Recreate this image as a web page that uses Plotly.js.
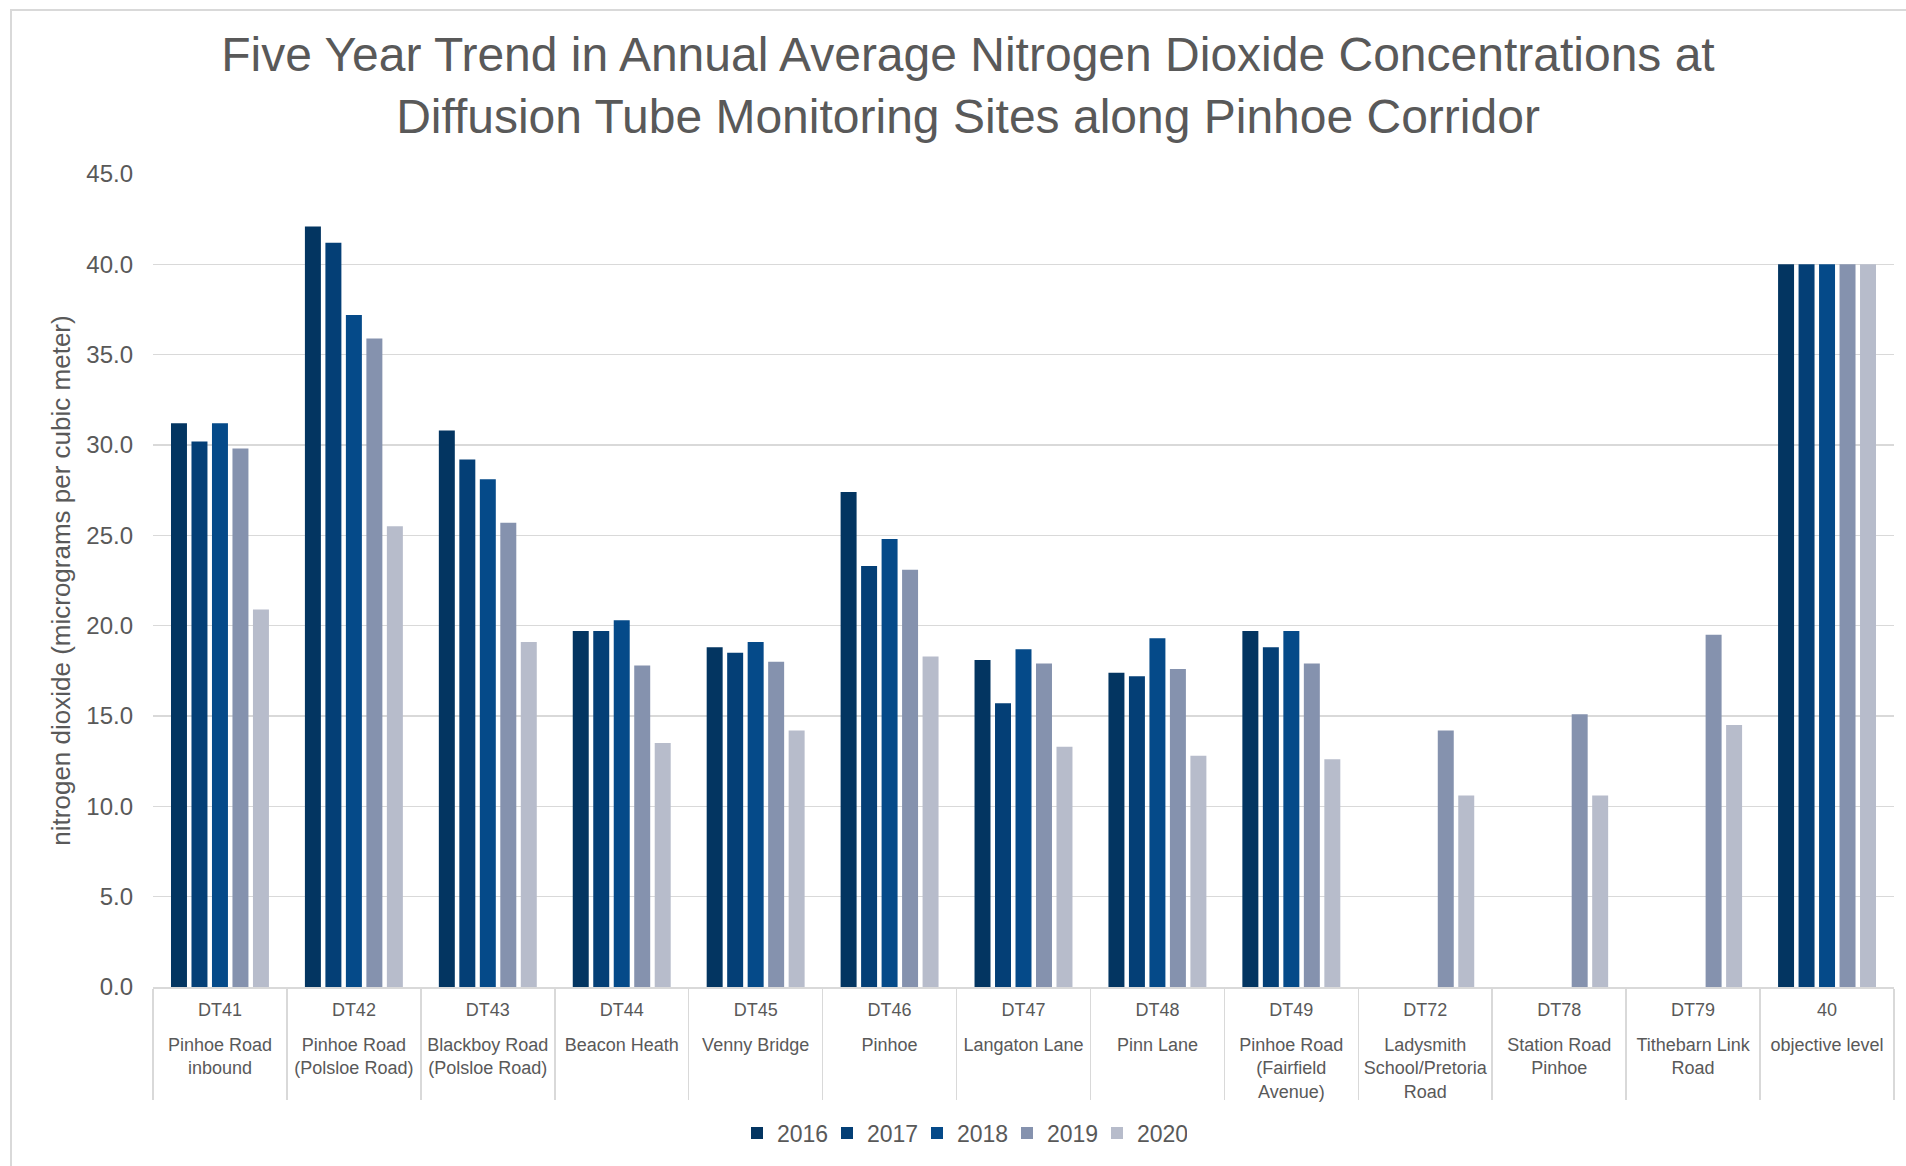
<!DOCTYPE html>
<html>
<head>
<meta charset="utf-8">
<script src="https://cdn.plot.ly/plotly-3.0.1.min.js"></script>
<style>html,body{margin:0;padding:0;background:#fff;}#chart{width:1906px;height:1166px;}</style>
</head>
<body>
<div id="chart"></div>
<script>
// ---- data ----
var siteCodes = ['DT41','DT42','DT43','DT44','DT45','DT46','DT47','DT48','DT49','DT72','DT78','DT79','40'];
var siteNames = ['Pinhoe Road<br>inbound','Pinhoe Road<br>(Polsloe Road)','Blackboy Road<br>(Polsloe Road)','Beacon Heath','Venny Bridge','Pinhoe','Langaton Lane','Pinn Lane','Pinhoe Road<br>(Fairfield<br>Avenue)','Ladysmith<br>School/Pretoria<br>Road','Station Road<br>Pinhoe','Tithebarn Link<br>Road','objective level'];
var years = ['2016','2017','2018','2019','2020'];
var y2016 = [31.2, 42.1, 30.8, 19.7, 18.8, 27.4, 18.1, 17.4, 19.7, null, null, null, 40];
var y2017 = [30.2, 41.2, 29.2, 19.7, 18.5, 23.3, 15.7, 17.2, 18.8, null, null, null, 40];
var y2018 = [31.2, 37.2, 28.1, 20.3, 19.1, 24.8, 18.7, 19.3, 19.7, null, null, null, 40];
var y2019 = [29.8, 35.9, 25.7, 17.8, 18.0, 23.1, 17.9, 17.6, 17.9, 14.2, 15.1, 19.5, 40];
var y2020 = [20.9, 25.5, 19.1, 13.5, 14.2, 18.3, 13.3, 12.8, 12.6, 10.6, 10.6, 14.5, 40];
var yTickVals = [0,5,10,15,20,25,30,35,40,45];

// ---- styles ----
var colors = ['#033561','#043f76','#054a89','#8592ae','#b7bccb'];
var series = [y2016, y2017, y2018, y2019, y2020];
var FONT = 'Liberation Sans, Arial, sans-serif';
var TXT = '#595959';
var GRID = '#d9d9d9';

var traces = series.map(function(vals, i){
  return {
    type: 'bar',
    name: years[i],
    x: siteCodes,
    y: vals,
    marker: {color: colors[i], line: {width: 0}},
    hoverinfo: 'skip'
  };
});

var W = 1906, H = 1166;
var L = 153, R = 12, T = 174, B = 179;
var pw = W - L - R, ph = H - T - B;
function px2paperX(px){ return (px - L) / pw; }
function px2paperY(py){ return (H - B - py) / ph; }

var layout = {
  width: W, height: H,
  margin: {l: L, r: R, t: T, b: B, pad: 0},
  paper_bgcolor: '#ffffff',
  plot_bgcolor: '#ffffff',
  font: {family: FONT, color: TXT},
  title: {
    text: 'Five Year Trend in Annual Average Nitrogen Dioxide Concentrations at<br>Diffusion Tube Monitoring Sites along Pinhoe Corridor',
    font: {family: FONT, size: 48, color: TXT},
    x: 968 / W, xanchor: 'center',
    y: 1 - 71 / H, yanchor: 'middle', yref: 'container'
  },
  barmode: 'group',
  bargap: 0.235,
  bargroupgap: 0.22,
  showlegend: true,
  legend: {
    orientation: 'h',
    x: px2paperX(962), xanchor: 'center',
    y: px2paperY(1133), yanchor: 'middle',
    font: {family: FONT, size: 23, color: TXT},
    itemwidth: 30,
    entrywidth: 45,
    entrywidthmode: 'pixels',
    traceorder: 'normal'
  },
  xaxis: {
    type: 'category',
    categoryorder: 'array',
    categoryarray: siteCodes,
    range: [-0.5, 12.5],
    showgrid: false,
    showline: true,
    linecolor: GRID,
    linewidth: 1.5,
    ticks: 'outside',
    tickson: 'boundaries',
    ticklen: 111,
    tickwidth: 1.5,
    tickcolor: GRID,
    tickfont: {family: FONT, size: 18, color: TXT},
    ticklabelstandoff: 6,
    fixedrange: true
  },
  xaxis2: {
    type: 'linear',
    overlaying: 'x',
    anchor: 'y',
    side: 'bottom',
    range: [-0.5, 12.5],
    tickmode: 'array',
    tickvals: siteCodes.map(function(_, i){ return i; }),
    ticktext: siteNames,
    ticks: '',
    showgrid: false,
    showline: false,
    zeroline: false,
    tickfont: {family: FONT, size: 18, color: TXT},
    ticklabelstandoff: 45,
    fixedrange: true
  },
  yaxis: {
    range: [0, 45],
    tickmode: 'array',
    tickvals: yTickVals,
    tickformat: '.1f',
    showgrid: true,
    gridcolor: GRID,
    gridwidth: 1.5,
    zeroline: false,
    showline: false,
    ticks: '',
    tickfont: {family: FONT, size: 24, color: TXT},
    ticklabelstandoff: 19,
    title: {
      text: 'nitrogen dioxide (micrograms per cubic meter)',
      font: {family: FONT, size: 26, color: TXT},
      standoff: 8
    },
    fixedrange: true
  },
  shapes: [{
    type: 'rect', xref: 'paper', yref: 'paper',
    x0: px2paperX(11), x1: px2paperX(1912),
    y0: px2paperY(1172), y1: px2paperY(10),
    line: {color: GRID, width: 2},
    fillcolor: 'rgba(0,0,0,0)',
    layer: 'below'
  }]
};

// invisible helper trace so the site-name axis (xaxis2) is drawn
traces.push({
  type: 'scatter', mode: 'markers', x: siteCodes.map(function(_, i){ return i; }),
  y: siteCodes.map(function(){ return null; }),
  xaxis: 'x2', yaxis: 'y', showlegend: false, hoverinfo: 'skip',
  marker: {opacity: 0}
});

Plotly.newPlot('chart', traces, layout, {displayModeBar: false, staticPlot: true});
</script>
</body>
</html>
